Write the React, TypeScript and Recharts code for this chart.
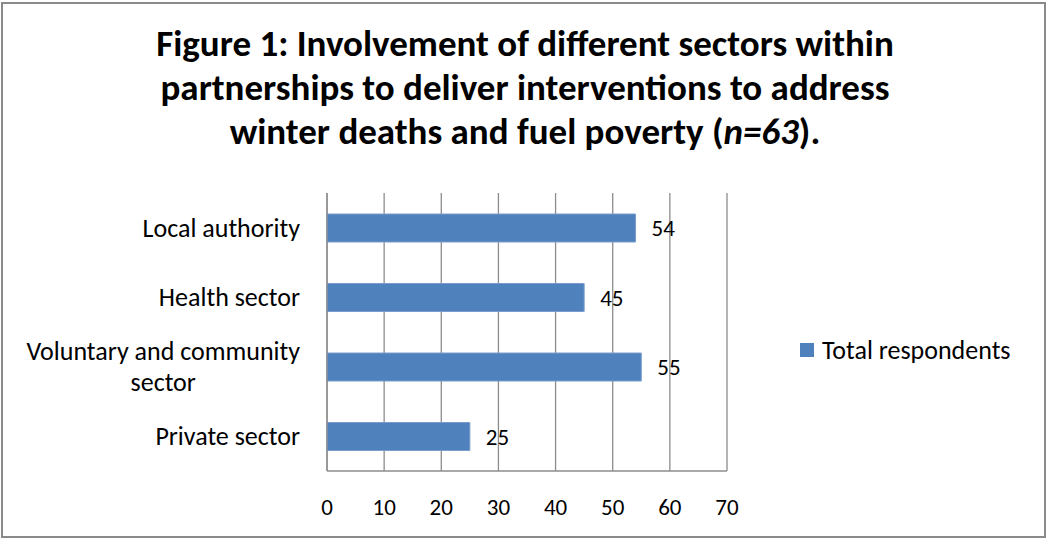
import React from 'react'
import { BarChart, Bar, XAxis, YAxis, CartesianGrid, LabelList } from 'recharts'

const categories = ['Local authority', 'Health sector', 'Voluntary and community sector', 'Private sector']
const totalRespondents = [54, 45, 55, 25]
const xTicks = [0, 10, 20, 30, 40, 50, 60, 70]
const seriesName = 'Total respondents'

const data = categories.map((name, i) => ({ name, total: totalRespondents[i] }))

const FONT = 'Carlito, Calibri, Lato, "Open Sans", sans-serif'
const BLUE = '#4f81bd'
const LABEL_SIZE = 26

let canvas: HTMLCanvasElement | null = null
function measure(text: string, size: number) {
  if (!canvas) canvas = document.createElement('canvas')
  const ctx = canvas.getContext('2d')!
  ctx.font = `${size}px ${FONT}`
  return ctx.measureText(text).width
}

function wrap(text: string, maxChars: number) {
  const words = text.split(' ')
  const lines: string[] = []
  let cur = ''
  words.forEach((w) => {
    const next = cur ? cur + ' ' + w : w
    if (next.length > maxChars && cur) {
      lines.push(cur)
      cur = w
    } else cur = next
  })
  if (cur) lines.push(cur)
  return lines
}

function CategoryTick({ x, y, payload }: any) {
  const lines = wrap(payload.value, 24)
  const lh = 31
  const right = x - 19
  if (lines.length === 1) {
    return (
      <text x={right} y={y} dy="0.35em" textAnchor="end" fontSize={LABEL_SIZE} fontFamily={FONT} fill="#000">
        {lines[0]}
      </text>
    )
  }
  const w = Math.max(...lines.map((l) => measure(l, LABEL_SIZE)))
  const cx = right - w / 2
  const start = y - ((lines.length - 1) * lh) / 2
  return (
    <g>
      {lines.map((l, i) => (
        <text key={i} x={cx} y={start + i * lh} dy="0.35em" textAnchor="middle" fontSize={LABEL_SIZE} fontFamily={FONT} fill="#000">
          {l}
        </text>
      ))}
    </g>
  )
}

export default function App() {
  return (
    <div style={{ position: 'absolute', left: 0, top: 0, width: 1050, height: 541, background: '#fff' }}>
      <div
        style={{
          position: 'absolute',
          left: 1,
          top: 2,
          width: 1045,
          height: 536,
          border: '2px solid #8a8a8a',
          boxSizing: 'border-box',
        }}
      />
      <div
        style={{
          position: 'absolute',
          left: 0,
          top: 22,
          width: 1050,
          textAlign: 'center',
          fontFamily: FONT,
          fontWeight: 'bold',
          fontSize: 37,
          lineHeight: '44px',
          color: '#000',
        }}
      >
        Figure 1: Involvement of different sectors within
        <br />
        partnerships to deliver interventions to address
        <br />
        winter deaths and fuel poverty (<i>n=63</i>).
      </div>
      <div style={{ position: 'absolute', left: 0, top: 0 }}>
        <BarChart
          width={1050}
          height={541}
          data={data}
          layout="vertical"
          margin={{ top: 193, right: 323, bottom: 30, left: 0 }}
          barCategoryGap={0}
        >
          <CartesianGrid horizontal={false} stroke="#8c8c8c" strokeWidth={1.3} />
          <XAxis
            type="number"
            domain={[0, 70]}
            ticks={xTicks}
            interval={0}
            height={40}
            tickLine={false}
            axisLine={{ stroke: '#8c8c8c', strokeWidth: 1.3 }}
            tick={{ fill: '#000', fontSize: 23, fontFamily: FONT }}
            tickMargin={22}
          />
          <YAxis
            type="category"
            dataKey="name"
            width={327}
            tickLine={false}
            axisLine={{ stroke: '#8c8c8c', strokeWidth: 1.3 }}
            tick={<CategoryTick />}
            interval={0}
          />
          <Bar dataKey="total" name={seriesName} fill={BLUE} stroke="#7a9ccc" strokeWidth={1} barSize={28} isAnimationActive={false}>
            <LabelList dataKey="total" position="right" offset={16} fill="#000" fontSize={23} fontFamily={FONT} />
          </Bar>
        </BarChart>
      </div>
      <div
        style={{
          position: 'absolute',
          left: 800,
          top: 334,
          height: 32,
          display: 'flex',
          alignItems: 'center',
          fontFamily: FONT,
          fontSize: LABEL_SIZE,
          color: '#000',
          whiteSpace: 'nowrap',
        }}
      >
        <span style={{ width: 14, height: 14, background: BLUE, display: 'inline-block', marginRight: 8 }} />
        <span>{seriesName}</span>
      </div>
    </div>
  )
}
